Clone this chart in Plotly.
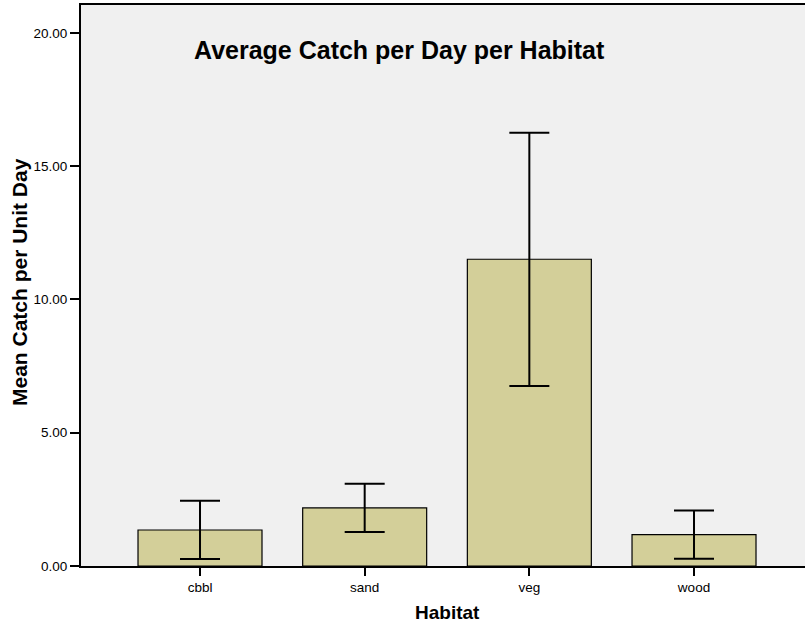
import plotly.graph_objects as go

habitats = ["cbbl", "sand", "veg", "wood"]
mean_catch = [1.35, 2.18, 11.51, 1.18]
ci_upper = [2.45, 3.09, 16.26, 2.08]
ci_lower = [0.26, 1.28, 6.75, 0.27]
y_ticks = [0, 5, 10, 15, 20]

err_plus = [u - m for u, m in zip(ci_upper, mean_catch)]
err_minus = [m - l for m, l in zip(mean_catch, ci_lower)]

font = "Liberation Sans, Arial, sans-serif"

W, H = 805, 624
L, R, T, B = 81, 0, 5, 58
pw, ph = W - L - R, H - T - B


def px_x(x):
    return (x - L) / pw


def px_y(y):
    return (H - B - y) / ph


fig = go.Figure()
fig.add_trace(go.Bar(
    x=habitats, y=mean_catch, width=0.753,
    marker=dict(color="#d3cf99", line=dict(color="black", width=1.2)),
    error_y=dict(type="data", symmetric=False, array=err_plus, arrayminus=err_minus,
                 color="black", thickness=2, width=20),
))

fig.update_layout(
    width=W, height=H,
    margin=dict(l=L, r=R, t=T, b=B, pad=0),
    paper_bgcolor="white", plot_bgcolor="#f0f0f0",
    font=dict(family=font, size=13.5, color="black"),
    showlegend=False,
    xaxis=dict(
        range=[-0.7227, 3.674], showline=True, linecolor="black", linewidth=2, mirror=True,
        ticks="outside", ticklen=8, tickwidth=2, tickcolor="black",
        showgrid=False, zeroline=False,
    ),
    yaxis=dict(
        range=[0, 21.05], tickvals=y_ticks, tickformat=".2f",
        showline=True, linecolor="black", linewidth=2,
        ticks="outside", ticklen=9, tickwidth=2, tickcolor="black",
        showgrid=False, zeroline=False,
    ),
    annotations=[
        dict(text="<b>Average Catch per Day per Habitat</b>", xref="paper", yref="paper",
             x=px_x(399.5), y=px_y(50), xanchor="center", yanchor="middle",
             showarrow=False, font=dict(size=25, family=font)),
        dict(text="<b>Habitat</b>", xref="paper", yref="paper",
             x=px_x(447.5), y=px_y(612), xanchor="center", yanchor="middle",
             showarrow=False, font=dict(size=19, family=font)),
        dict(text="<b>Mean Catch per Unit Day</b>", xref="paper", yref="paper",
             x=px_x(19), y=px_y(282), xanchor="center", yanchor="middle", textangle=-90,
             showarrow=False, font=dict(size=21, family=font)),
    ],
)

fig.write_html("out.html", config={"displayModeBar": False},
               post_script="document.body.style.margin='0';")
